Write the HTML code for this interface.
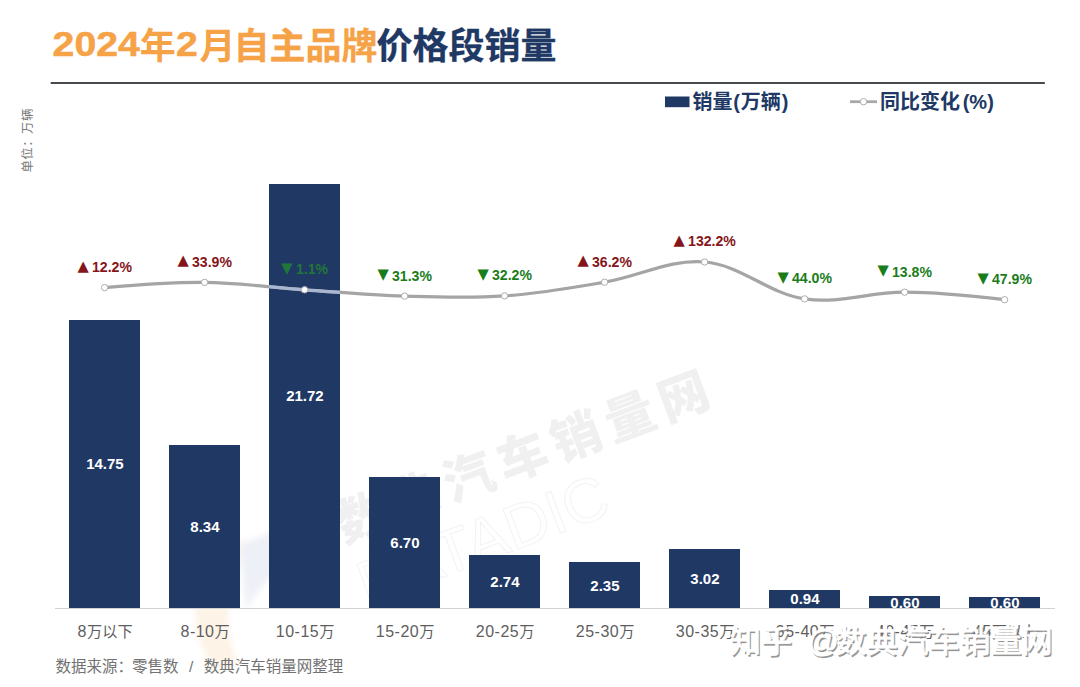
<!DOCTYPE html>
<html lang="zh-CN">
<head>
<meta charset="utf-8">
<title>2024年2月自主品牌价格段销量</title>
<style>
html,body{margin:0;padding:0;background:#fff;}
body{width:1080px;height:687px;overflow:hidden;position:relative;font-family:"Liberation Sans","Noto Sans CJK SC",sans-serif;}
#chart{position:absolute;left:0;top:0;width:1080px;height:687px;display:block;}
.cjk{font-family:"Liberation Sans","Noto Sans CJK SC",sans-serif;}
.num{font-family:"Liberation Sans",sans-serif;font-weight:700;}
.tri{font-family:"DejaVu Sans","Liberation Sans",sans-serif;}
</style>
</head>
<body>
<svg id="chart" width="1080" height="687" viewBox="0 0 1080 687">
<rect x="0" y="0" width="1080" height="687" fill="#ffffff"/>

<defs><filter id="bl" x="-30%" y="-30%" width="160%" height="160%"><feGaussianBlur stdDeviation="3"/></filter></defs>
<g id="wm" class="cjk">
<path d="M196,605 C199,570 219,548 246,540 L236,578 C226,603 224,633 238,662 L218,670 C201,652 194,630 196,605 Z" fill="#fdf3e6" filter="url(#bl)"/>
<path d="M240,545 C262,534 300,524 332,520 L300,560 C285,565 262,580 246,610 Z" fill="#edf0f6" filter="url(#bl)"/>
<g transform="translate(344,543.2) rotate(-20.6)"><text x="0" y="0" font-size="50" font-weight="900" fill="#f0f0f0" letter-spacing="7.4">数典汽车销量网</text></g>
<g transform="translate(367,606) rotate(-20.6)"><text x="0" y="0" font-size="62" font-weight="300" fill="none" stroke="#f3f3f3" stroke-width="1" letter-spacing="0">DATADIC</text></g>
</g>
<g class="cjk" font-size="36" font-weight="700">
<text x="52.6" y="55.6" font-size="35" fill="#f6a246" stroke="#f6a246" stroke-width="0.5" textLength="87.2" lengthAdjust="spacingAndGlyphs">2024</text>
<text x="139.7" y="58.6" fill="#f6a246">年</text>
<text x="176" y="55.6" font-size="35" fill="#f6a246" stroke="#f6a246" stroke-width="0.5" textLength="21.8" lengthAdjust="spacingAndGlyphs">2</text>
<text x="199.5" y="58.6" fill="#f6a246">月</text>
<text x="233.6" y="58.6" fill="#f6a246" stroke="#f6a246" stroke-width="0.3">自主品牌</text>
<text x="376.6" y="58.6" fill="#203864" stroke="#203864" stroke-width="0.3">价格段销量</text>
</g>
<rect x="50.7" y="82" width="994.1" height="2" fill="#46494d"/>
<text class="cjk" transform="translate(32.4,172.6) rotate(-90)" font-size="12.4" fill="#7a7a7a" letter-spacing="0.5">单位：万辆</text>
<rect x="665" y="96.5" width="24.5" height="10.7" fill="#203864"/>
<text class="cjk" x="692.5" y="108.5" font-size="20" font-weight="700" fill="#203864">销量<tspan dx="0.7">(</tspan><tspan dx="1">万辆</tspan><tspan dx="0.8">)</tspan></text>
<line x1="850" y1="101.7" x2="877" y2="101.7" stroke="#a8a8a8" stroke-width="2.8"/>
<circle cx="863.5" cy="101.7" r="3.2" fill="#fff" stroke="#adadad" stroke-width="1"/>
<text class="cjk" x="880" y="108.5" font-size="20" font-weight="700" fill="#203864">同比变化<tspan dx="2.7">(%)</tspan></text>
<g id="bars" fill="#203864">
<rect x="69" y="320" width="71" height="288"/>
<rect x="169" y="445" width="71" height="163"/>
<rect x="269" y="184" width="71" height="424"/>
<rect x="369" y="477" width="71" height="131"/>
<rect x="469" y="555" width="71" height="53"/>
<rect x="569" y="562" width="71" height="46"/>
<rect x="669" y="549" width="71" height="59"/>
<rect x="769" y="590" width="71" height="18"/>
<rect x="869" y="596" width="71" height="12"/>
<rect x="969" y="597" width="71" height="11"/>
</g>
<rect x="55" y="608" width="1000" height="1" fill="#d2d2d2"/>
<g class="num" font-size="15" fill="#ffffff" text-anchor="middle">
<text x="104.9" y="469.4">14.75</text>
<text x="204.9" y="532.0">8.34</text>
<text x="304.9" y="401.4">21.72</text>
<text x="404.9" y="548.0">6.70</text>
<text x="504.9" y="586.7">2.74</text>
<text x="604.9" y="590.5">2.35</text>
<text x="704.9" y="583.9">3.02</text>
<text x="804.9" y="604.2">0.94</text>
<text x="904.9" y="607.5">0.60</text>
<text x="1004.9" y="607.5">0.60</text>
</g>
<path d="M104.60,287.60 C104.60,287.60 168.62,282.00 204.60,282.40 C240.62,282.80 268.59,287.33 304.60,289.80 C340.59,292.27 368.56,295.00 404.60,296.10 C440.56,297.20 468.77,298.39 504.60,295.90 C540.77,293.39 568.79,288.27 604.60,282.20 C640.79,276.07 669.39,259.06 704.60,262.00 C741.39,265.07 767.49,293.30 804.60,298.90 C839.49,304.17 868.61,292.06 904.60,292.20 C940.61,292.34 1004.60,299.70 1004.60,299.70" fill="none" stroke="#a5a5a5" stroke-width="3.2" stroke-linecap="round" stroke-linejoin="round"/>
<clipPath id="b3"><rect x="269.1" y="184" width="71" height="424"/></clipPath>
<path d="M104.60,287.60 C104.60,287.60 168.62,282.00 204.60,282.40 C240.62,282.80 268.59,287.33 304.60,289.80 C340.59,292.27 368.56,295.00 404.60,296.10 C440.56,297.20 468.77,298.39 504.60,295.90 C540.77,293.39 568.79,288.27 604.60,282.20 C640.79,276.07 669.39,259.06 704.60,262.00 C741.39,265.07 767.49,293.30 804.60,298.90 C839.49,304.17 868.61,292.06 904.60,292.20 C940.61,292.34 1004.60,299.70 1004.60,299.70" fill="none" stroke="#a9b6d2" stroke-width="3.2" clip-path="url(#b3)"/>
<g fill="#ffffff" stroke="#adadad" stroke-width="1">
<circle cx="104.6" cy="287.6" r="3.2"/>
<circle cx="204.6" cy="282.4" r="3.2"/>
<circle cx="304.6" cy="289.8" r="3.2"/>
<circle cx="404.6" cy="296.1" r="3.2"/>
<circle cx="504.6" cy="295.9" r="3.2"/>
<circle cx="604.6" cy="282.2" r="3.2"/>
<circle cx="704.6" cy="262.0" r="3.2"/>
<circle cx="804.6" cy="298.9" r="3.2"/>
<circle cx="904.6" cy="292.2" r="3.2"/>
<circle cx="1004.6" cy="299.7" r="3.2"/>
</g>
<g class="num" font-size="14.1" text-anchor="middle">
<text x="105.6" y="272.0" fill="#85151a"><tspan class="tri" font-size="14.7" font-weight="400" dx="-0.9" dy="-1.5">▲</tspan><tspan dx="3.3" dy="1.5">12.2%</tspan></text>
<text x="205.6" y="266.8" fill="#85151a"><tspan class="tri" font-size="14.7" font-weight="400" dx="-0.9" dy="-1.5">▲</tspan><tspan dx="3.3" dy="1.5">33.9%</tspan></text>
<text x="305.6" y="274.2" fill="#21773a"><tspan class="tri" font-size="14.7" font-weight="400" dx="-0.9" dy="-1.5">▼</tspan><tspan dx="3.3" dy="1.5">1.1%</tspan></text>
<text x="405.6" y="280.5" fill="#1a7d1a"><tspan class="tri" font-size="14.7" font-weight="400" dx="-0.9" dy="-1.5">▼</tspan><tspan dx="3.3" dy="1.5">31.3%</tspan></text>
<text x="505.6" y="280.3" fill="#1a7d1a"><tspan class="tri" font-size="14.7" font-weight="400" dx="-0.9" dy="-1.5">▼</tspan><tspan dx="3.3" dy="1.5">32.2%</tspan></text>
<text x="605.6" y="266.6" fill="#85151a"><tspan class="tri" font-size="14.7" font-weight="400" dx="-0.9" dy="-1.5">▲</tspan><tspan dx="3.3" dy="1.5">36.2%</tspan></text>
<text x="705.6" y="246.4" fill="#85151a"><tspan class="tri" font-size="14.7" font-weight="400" dx="-0.9" dy="-1.5">▲</tspan><tspan dx="3.3" dy="1.5">132.2%</tspan></text>
<text x="805.6" y="283.3" fill="#1a7d1a"><tspan class="tri" font-size="14.7" font-weight="400" dx="-0.9" dy="-1.5">▼</tspan><tspan dx="3.3" dy="1.5">44.0%</tspan></text>
<text x="905.6" y="276.6" fill="#1a7d1a"><tspan class="tri" font-size="14.7" font-weight="400" dx="-0.9" dy="-1.5">▼</tspan><tspan dx="3.3" dy="1.5">13.8%</tspan></text>
<text x="1005.6" y="284.1" fill="#1a7d1a"><tspan class="tri" font-size="14.7" font-weight="400" dx="-0.9" dy="-1.5">▼</tspan><tspan dx="3.3" dy="1.5">47.9%</tspan></text>
</g>
<g class="cjk" font-size="16" fill="#5e5e5e" text-anchor="middle">
<text x="105.1" y="637.4"><tspan letter-spacing="0.5">8</tspan><tspan font-size="15.2">万以下</tspan></text>
<text x="205.1" y="637.4"><tspan letter-spacing="0.5">8-10</tspan><tspan font-size="15.2">万</tspan></text>
<text x="305.1" y="637.4"><tspan letter-spacing="0.5">10-15</tspan><tspan font-size="15.2">万</tspan></text>
<text x="405.1" y="637.4"><tspan letter-spacing="0.5">15-20</tspan><tspan font-size="15.2">万</tspan></text>
<text x="505.1" y="637.4"><tspan letter-spacing="0.5">20-25</tspan><tspan font-size="15.2">万</tspan></text>
<text x="605.1" y="637.4"><tspan letter-spacing="0.5">25-30</tspan><tspan font-size="15.2">万</tspan></text>
<text x="705.1" y="637.4"><tspan letter-spacing="0.5">30-35</tspan><tspan font-size="15.2">万</tspan></text>
<text x="805.1" y="637.4"><tspan letter-spacing="0.5">35-40</tspan><tspan font-size="15.2">万</tspan></text>
<text x="905.1" y="637.4"><tspan letter-spacing="0.5">40-45</tspan><tspan font-size="15.2">万</tspan></text>
<text x="1005.1" y="637.4"><tspan letter-spacing="0.5">45</tspan><tspan font-size="15.2">万以上</tspan></text>
</g>
<text class="cjk" y="672.3" font-size="15.5" fill="#727272"><tspan x="55.6">数据来源：</tspan><tspan x="132">零售数</tspan><tspan x="184.6"> / </tspan><tspan x="203.7">数典汽车销量网整理</tspan></text>
<g class="cjk" font-size="31" font-weight="400">
<text x="731.5" y="653.5" fill="#787878" fill-opacity="0.75" stroke="#787878" stroke-opacity="0.4" stroke-width="0.5">知乎<tspan dx="6.8"> @</tspan><tspan dx="-3.3">数典汽车销量网</tspan></text>
<text x="730" y="652" fill="#ffffff" stroke="#ffffff" stroke-width="0.9">知乎<tspan dx="6.8"> @</tspan><tspan dx="-3.3">数典汽车销量网</tspan></text>
</g>
</svg>
</body>
</html>
